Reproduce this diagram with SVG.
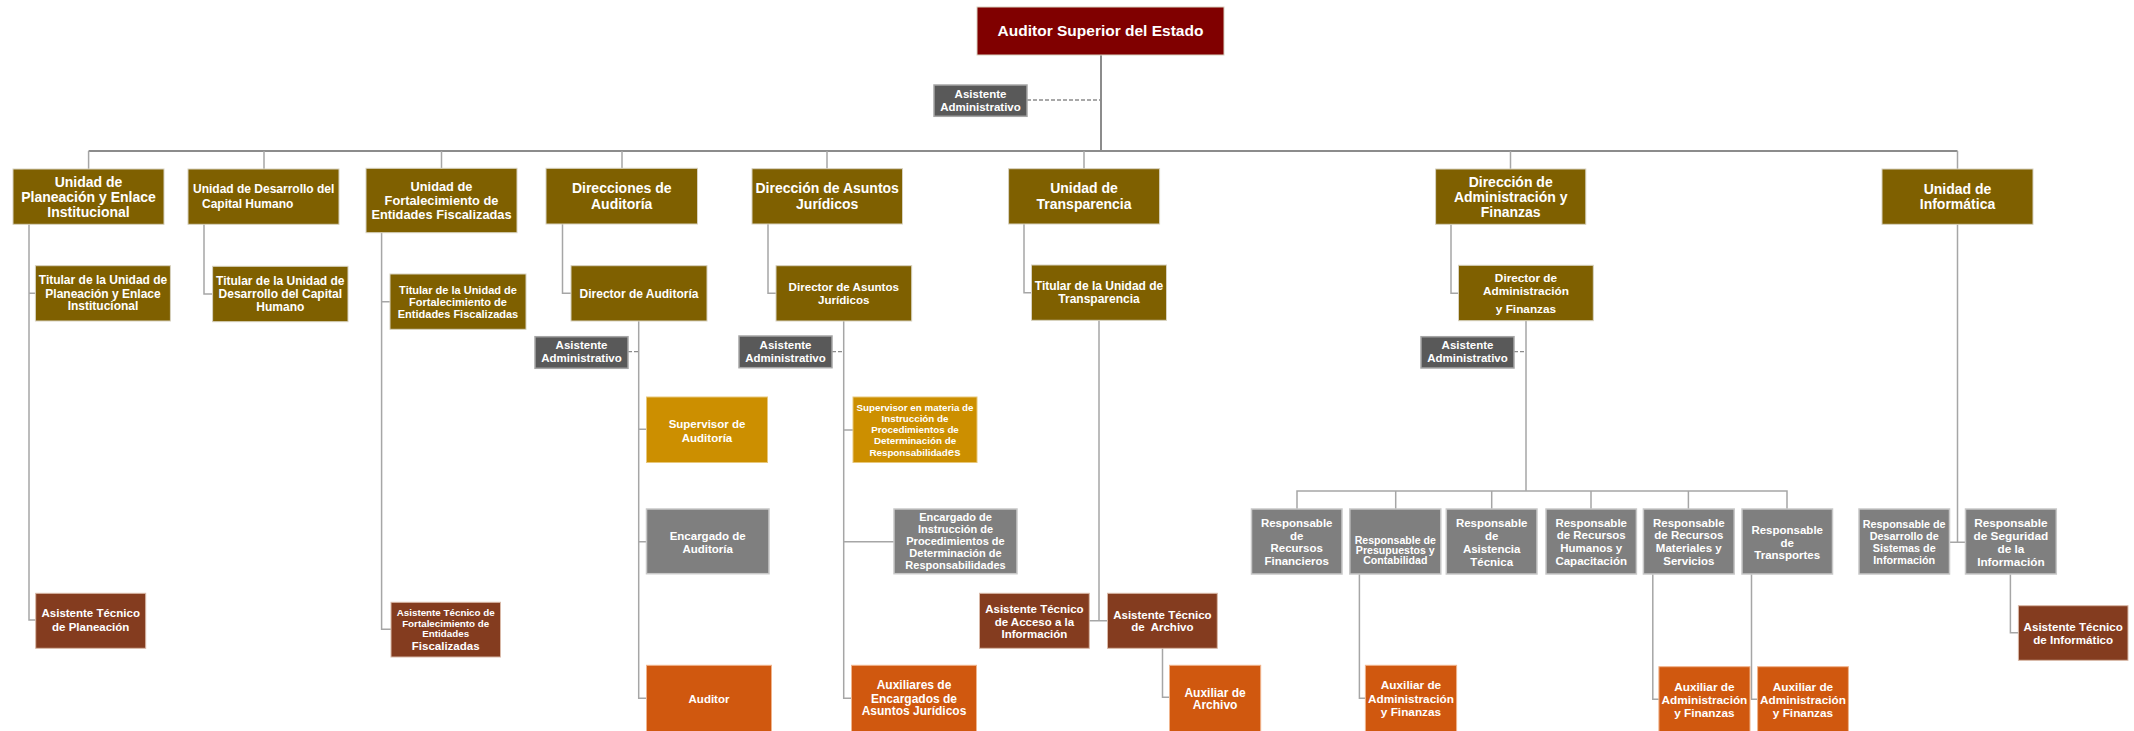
<svg xmlns="http://www.w3.org/2000/svg" width="2134" height="731" viewBox="0 0 2134 731">
<style>
.bx{stroke:#D8D2C0;stroke-width:1}
.ol{fill:#7F6000}
.rd{fill:#800000}
.dg{fill:#595959;stroke:#A6A6A6;stroke-width:1.5}
.gd{fill:#CC8F00;stroke:#E8C77A;stroke-width:1}
.gr{fill:#7F7F7F;stroke:#C8C8C8;stroke-width:1.5}
.br{fill:#843C1F;stroke:#D9B9A8;stroke-width:1}
.or{fill:#D0580F;stroke:#F0B48C;stroke-width:1}
text{font-family:"Liberation Sans",Arial,sans-serif;font-weight:bold;fill:#FFFFFF;text-anchor:middle;white-space:pre}
.ln{fill:none;stroke:#A6A6A6;stroke-width:1.5}
.lm{fill:none;stroke:#8C8C8C;stroke-width:2}
.ld{fill:none;stroke:#8C8C8C;stroke-width:1.3;stroke-dasharray:4 2}
</style>
<g id="connectors">
<path class="lm" d="M1101 55V151M88.6 151H1957.5"/>
<path class="ld" d="M1027 100H1101"/>
<path class="ln" d="M88.6 151V169M264 151V169M441.5 151V168M622 151V168M827 151V169M1084 151V169M1510.5 151V169M1957.5 151V169"/>
<path class="ln" d="M29 224V620H35.7M29 293.3H35.4"/>
<path class="ln" d="M204 224V294H212.6"/>
<path class="ln" d="M381.6 232.7V629.3H391M381.6 301.7H390"/>
<path class="ln" d="M562.5 224V293.3H571"/>
<path class="ln" d="M638.7 321V698.3H646.5M638.7 429.3H646.5M638.7 541.7H646.5"/>
<path class="ld" d="M628 351.7H638.7"/>
<path class="ln" d="M768 224V293.3H776"/>
<path class="ln" d="M843.7 321V698.3H851.5M843.7 430H853M843.7 541.7H894"/>
<path class="ld" d="M832 351.7H843.7"/>
<path class="ln" d="M1024 224V292.7H1031.5"/>
<path class="ln" d="M1099 320.3V620.7M1089 620.7H1107.5"/>
<path class="ln" d="M1162.5 648.3V697.3H1169.5"/>
<path class="ln" d="M1451 224.3V293.3H1458.5"/>
<path class="ln" d="M1526 320.7V491"/>
<path class="ld" d="M1514 351.7H1526"/>
<path class="ln" d="M1297 509V491H1787V509M1395.7 491V509M1491.7 491V509M1591 491V509M1688.4 491V509"/>
<path class="ln" d="M1359.4 574V698.3H1365.4"/>
<path class="ln" d="M1652.8 574.3V699.3H1658.9"/>
<path class="ln" d="M1751.5 574.3V699.3H1757.6"/>
<path class="ln" d="M1957.5 224.3V542.3M1949.5 542.3H1965.5"/>
<path class="ln" d="M2010.4 574.3V632.7H2018.4"/>
</g>

<g id="n_auditor_superior"><rect class="bx rd" x="977" y="7" width="247" height="48"/><text x="1100.5" y="36" font-size="15.5">Auditor Superior del Estado</text></g>
<g id="n_asistente_admin_top"><rect class="dg" x="934" y="85" width="93" height="31.3"/><text x="980.5" y="97.7" font-size="11.5">Asistente</text><text x="980.5" y="110.7" font-size="11.5">Administrativo</text></g>

<g id="n_planeacion"><rect class="bx ol" x="13" y="169" width="151" height="55.3"/><text x="88.5" font-size="14"><tspan x="88.5" y="186.7">Unidad de</tspan><tspan x="88.5" y="201.7">Planeación y Enlace</tspan><tspan x="88.5" y="217.3">Institucional</tspan></text></g>
<g id="n_desarrollo"><rect class="bx ol" x="188" y="169" width="151" height="55.3"/><text font-size="12" style="text-anchor:start"><tspan x="193" y="193.2">Unidad de Desarrollo del</tspan><tspan x="202" y="207.9">Capital Humano</tspan></text></g>
<g id="n_fortalecimiento"><rect class="bx ol" x="366" y="168.3" width="151" height="64.4"/><text font-size="12.8"><tspan x="441.5" y="191.2">Unidad de</tspan><tspan x="441.5" y="205.2">Fortalecimiento de</tspan><tspan x="441.5" y="219.2">Entidades Fiscalizadas</tspan></text></g>
<g id="n_direcciones_auditoria"><rect class="bx ol" x="546" y="168.3" width="151.5" height="55.7"/><text font-size="14"><tspan x="621.7" y="193.3">Direcciones de</tspan><tspan x="621.7" y="209.3">Auditoría</tspan></text></g>
<g id="n_juridicos"><rect class="bx ol" x="752" y="168.7" width="150.5" height="55.3"/><text font-size="14"><tspan x="827.2" y="193.3">Dirección de Asuntos</tspan><tspan x="827.2" y="209.3">Jurídicos</tspan></text></g>
<g id="n_transparencia"><rect class="bx ol" x="1008.6" y="168.7" width="151" height="55.3"/><text font-size="14"><tspan x="1084" y="193.3">Unidad de</tspan><tspan x="1084" y="209.3">Transparencia</tspan></text></g>
<g id="n_admin_finanzas"><rect class="bx ol" x="1435.6" y="169" width="150.2" height="55.3"/><text font-size="14"><tspan x="1510.7" y="186.7">Dirección de</tspan><tspan x="1510.7" y="201.7">Administración y</tspan><tspan x="1510.7" y="217.3">Finanzas</tspan></text></g>
<g id="n_informatica"><rect class="bx ol" x="1882" y="169" width="151" height="55.3"/><text font-size="14"><tspan x="1957.5" y="194">Unidad de</tspan><tspan x="1957.5" y="208.7">Informática</tspan></text></g>

<g id="n_titular_planeacion"><rect class="bx ol" x="35.4" y="265.7" width="135" height="55.3"/><text font-size="12"><tspan x="103" y="284.2">Titular de la Unidad de</tspan><tspan x="103" y="297.5">Planeación y Enlace</tspan><tspan x="103" y="310.2">Institucional</tspan></text></g>
<g id="n_titular_desarrollo"><rect class="bx ol" x="212.6" y="266.3" width="135.4" height="55.4"/><text font-size="12"><tspan x="280.3" y="285.2">Titular de la Unidad de</tspan><tspan x="280.3" y="298.2">Desarrollo del Capital</tspan><tspan x="280.3" y="311.2">Humano</tspan></text></g>
<g id="n_titular_fortalecimiento"><rect class="bx ol" x="390" y="274" width="136" height="55.3"/><text font-size="11"><tspan x="458" y="294.3">Titular de la Unidad de</tspan><tspan x="458" y="306.3">Fortalecimiento de</tspan><tspan x="458" y="318.3">Entidades Fiscalizadas</tspan></text></g>
<g id="n_director_auditoria"><rect class="bx ol" x="571" y="265.7" width="136" height="55.3"/><text x="639" y="297.5" font-size="12">Director de Auditoría</text></g>
<g id="n_director_juridicos"><rect class="bx ol" x="776" y="265.7" width="135.7" height="55.3"/><text font-size="11.6"><tspan x="843.8" y="291.1">Director de Asuntos</tspan><tspan x="843.8" y="303.8">Jurídicos</tspan></text></g>
<g id="n_titular_transparencia"><rect class="bx ol" x="1031.5" y="265" width="135" height="55.3"/><text font-size="12"><tspan x="1099" y="290.2">Titular de la Unidad de</tspan><tspan x="1099" y="303.2">Transparencia</tspan></text></g>
<g id="n_director_admin"><rect class="bx ol" x="1458.5" y="265.3" width="134.8" height="55.4"/><text font-size="11.8"><tspan x="1526" y="282.2">Director de</tspan><tspan x="1526" y="294.9">Administración</tspan><tspan x="1526" y="313.2">y Finanzas</tspan></text></g>

<g id="n_asistente_admin_auditoria"><rect class="dg" x="535" y="336.7" width="93" height="31.6"/><text x="581.5" y="349.4" font-size="11.5">Asistente</text><text x="581.5" y="362.4" font-size="11.5">Administrativo</text></g>
<g id="n_asistente_admin_juridicos"><rect class="dg" x="739" y="336" width="93" height="31.7"/><text x="785.5" y="348.8" font-size="11.5">Asistente</text><text x="785.5" y="361.8" font-size="11.5">Administrativo</text></g>
<g id="n_asistente_admin_finanzas"><rect class="dg" x="1421" y="336.7" width="93" height="31.3"/><text x="1467.5" y="349.4" font-size="11.5">Asistente</text><text x="1467.5" y="362.4" font-size="11.5">Administrativo</text></g>

<g id="n_supervisor_auditoria"><rect class="gd" x="646.5" y="397" width="121" height="65.5"/><text font-size="11.5"><tspan x="707" y="427.5">Supervisor de</tspan><tspan x="707" y="441.9">Auditoría</tspan></text></g>
<g id="n_supervisor_materia"><rect class="gd" x="853" y="397" width="124" height="65.5"/><text font-size="9.8"><tspan x="915" y="410.8">Supervisor en materia de</tspan><tspan x="915" y="421.8">Instrucción de</tspan><tspan x="915" y="432.8">Procedimientos de</tspan><tspan x="915" y="444.2">Determinación de</tspan><tspan x="915" y="456.2">Responsabilidad<tspan font-size="11.5">es</tspan></tspan></text></g>

<g id="n_encargado_auditoria"><rect class="gr" x="646.5" y="509" width="122.5" height="64.7"/><text font-size="11.5"><tspan x="707.7" y="539.8">Encargado de</tspan><tspan x="707.7" y="552.5">Auditoría</tspan></text></g>
<g id="n_encargado_instruccion"><rect class="gr" x="894" y="509" width="123" height="64.7"/><text font-size="11"><tspan x="955.5" y="521.2">Encargado de</tspan><tspan x="955.5" y="533.2">Instrucción de</tspan><tspan x="955.5" y="545.2">Procedimientos de</tspan><tspan x="955.5" y="557.2">Determinación de</tspan><tspan x="955.5" y="569.2">Responsabilidades</tspan></text></g>

<g id="n_resp_financieros"><rect class="gr" x="1251.5" y="509" width="90.5" height="65"/><text font-size="11.5"><tspan x="1296.7" y="526.5">Responsable</tspan><tspan x="1296.7" y="539.5">de</tspan><tspan x="1296.7" y="552.2">Recursos</tspan><tspan x="1296.7" y="565.2">Financieros</tspan></text></g>
<g id="n_resp_presupuestos"><rect class="gr" x="1349.8" y="509" width="91" height="65"/><text font-size="10.6"><tspan x="1395.3" y="543.7">Responsable de</tspan><tspan x="1395.3" y="554.4">Presupuestos y</tspan><tspan x="1395.3" y="564.4">Contabilidad</tspan></text></g>
<g id="n_resp_asistencia"><rect class="gr" x="1446.3" y="509" width="90.7" height="65"/><text font-size="11.5"><tspan x="1491.7" y="526.5">Responsable</tspan><tspan x="1491.7" y="540.2">de</tspan><tspan x="1491.7" y="553.2">Asistencia</tspan><tspan x="1491.7" y="565.9">Técnica</tspan></text></g>
<g id="n_resp_rh"><rect class="gr" x="1546" y="509" width="90.4" height="65"/><text font-size="11.5"><tspan x="1591.2" y="526.5">Responsable</tspan><tspan x="1591.2" y="539.2">de Recursos</tspan><tspan x="1591.2" y="552.2">Humanos y</tspan><tspan x="1591.2" y="565.2">Capacitación</tspan></text></g>
<g id="n_resp_materiales"><rect class="gr" x="1643.4" y="509" width="90.8" height="65"/><text font-size="11.5"><tspan x="1688.8" y="526.5">Responsable</tspan><tspan x="1688.8" y="539.2">de Recursos</tspan><tspan x="1688.8" y="552.2">Materiales y</tspan><tspan x="1688.8" y="565.2">Servicios</tspan></text></g>
<g id="n_resp_transportes"><rect class="gr" x="1742" y="509" width="90.5" height="65"/><text font-size="11.5"><tspan x="1787.2" y="533.5">Responsable</tspan><tspan x="1787.2" y="546.5">de</tspan><tspan x="1787.2" y="559.2">Transportes</tspan></text></g>
<g id="n_resp_sistemas"><rect class="gr" x="1859" y="509" width="90.5" height="65"/><text font-size="10.8"><tspan x="1904.2" y="528.2">Responsable de</tspan><tspan x="1904.2" y="540.2">Desarrollo de</tspan><tspan x="1904.2" y="552.2">Sistemas de</tspan><tspan x="1904.2" y="564.2">Información</tspan></text></g>
<g id="n_resp_seguridad"><rect class="gr" x="1965.5" y="509" width="90.8" height="65"/><text font-size="11.8"><tspan x="2010.9" y="526.5">Responsable</tspan><tspan x="2010.9" y="540.2">de Seguridad</tspan><tspan x="2010.9" y="553.2">de la</tspan><tspan x="2010.9" y="565.9">Información</tspan></text></g>

<g id="n_at_planeacion"><rect class="br" x="35.7" y="593.3" width="110" height="55"/><text font-size="11.5"><tspan x="90.7" y="617.3">Asistente Técnico</tspan><tspan x="90.7" y="630.7">de Planeación</tspan></text></g>
<g id="n_at_fortalecimiento"><rect class="br" x="391" y="602.3" width="109.5" height="54.7"/><text font-size="9.8"><tspan x="445.7" y="616">Asistente Técnico de</tspan><tspan x="445.7" y="627.3">Fortalecimiento de</tspan><tspan x="445.7" y="637.3">Entidades</tspan><tspan x="445.7" y="650" font-size="11.5">Fiscalizadas</tspan></text></g>
<g id="n_at_acceso"><rect class="br" x="979.5" y="593.3" width="109.8" height="55"/><text font-size="11.5"><tspan x="1034.4" y="612.6">Asistente Técnico</tspan><tspan x="1034.4" y="625.6">de Acceso a la</tspan><tspan x="1034.4" y="638.3">Información</tspan></text></g>
<g id="n_at_archivo"><rect class="br" x="1107.5" y="593.3" width="109.8" height="55"/><text font-size="11.5"><tspan x="1162.4" y="618.6">Asistente Técnico</tspan><tspan x="1162.4" y="631">de  Archivo</tspan></text></g>
<g id="n_at_informatico"><rect class="br" x="2018.4" y="605.7" width="109.6" height="54.6"/><text font-size="11.6"><tspan x="2073.2" y="631.3">Asistente Técnico</tspan><tspan x="2073.2" y="644.3">de Informático</tspan></text></g>

<g id="n_auditor"><rect class="or" x="646.5" y="665.3" width="125" height="70"/><text x="709" y="702.5" font-size="11.5">Auditor</text></g>
<g id="n_auxiliares_juridicos"><rect class="or" x="851.5" y="665.3" width="125" height="70"/><text font-size="12"><tspan x="914" y="689.4">Auxiliares de</tspan><tspan x="914" y="702.7">Encargados de</tspan><tspan x="914" y="715.4">Asuntos Jurídicos</tspan></text></g>
<g id="n_aux_archivo"><rect class="or" x="1169.5" y="665.3" width="91.2" height="70"/><text font-size="12"><tspan x="1215.1" y="696.5">Auxiliar de</tspan><tspan x="1215.1" y="709.2">Archivo</tspan></text></g>
<g id="n_aux_presupuestos"><rect class="or" x="1365.4" y="665.3" width="91.2" height="70"/><text font-size="11.8"><tspan x="1411" y="689.2">Auxiliar de</tspan><tspan x="1411" y="703.2">Administración</tspan><tspan x="1411" y="715.9">y Finanzas</tspan></text></g>
<g id="n_aux_materiales"><rect class="or" x="1658.9" y="666.7" width="91.1" height="70"/><text font-size="11.8"><tspan x="1704.4" y="691.2">Auxiliar de</tspan><tspan x="1704.4" y="704.2">Administración</tspan><tspan x="1704.4" y="717.2">y Finanzas</tspan></text></g>
<g id="n_aux_transportes"><rect class="or" x="1757.6" y="666.7" width="90.8" height="70"/><text font-size="11.8"><tspan x="1803" y="691.2">Auxiliar de</tspan><tspan x="1803" y="704.2">Administración</tspan><tspan x="1803" y="717.2">y Finanzas</tspan></text></g>
</svg>
